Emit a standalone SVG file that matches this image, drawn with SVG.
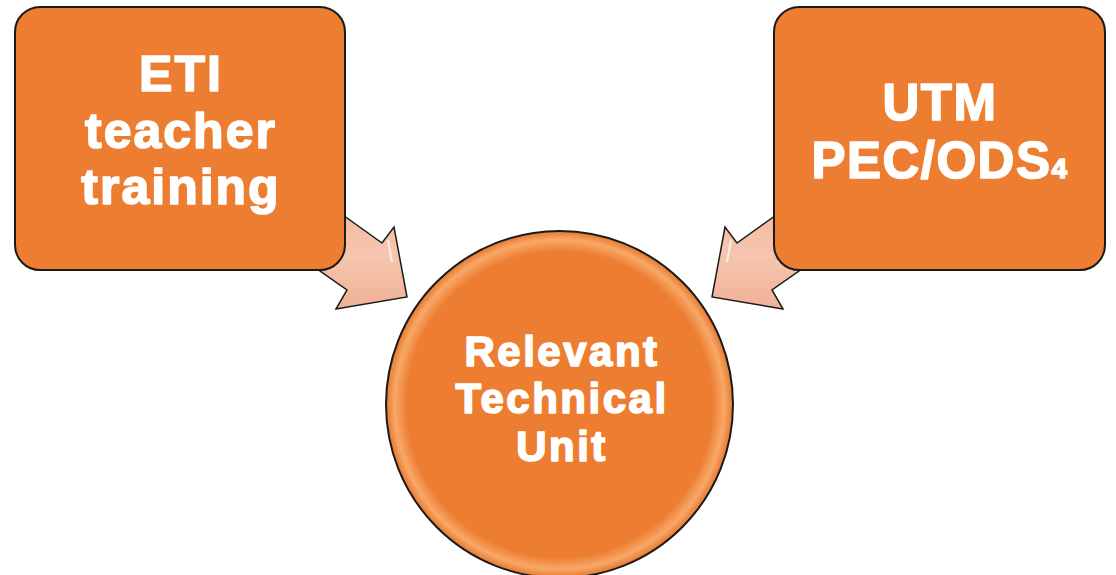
<svg xmlns="http://www.w3.org/2000/svg" width="1116" height="575" viewBox="0 0 1116 575">
<defs>
<style>
.box{fill:#ED7D31;stroke:#1a1a1a;stroke-width:2}
.arrow{fill:url(#arrowGrad);stroke:#1a1a1a;stroke-width:1.5;stroke-linejoin:miter}
.lbl{font-family:"Liberation Sans",Arial,sans-serif;font-weight:bold;fill:#ffffff;stroke:#ffffff;stroke-width:1.6;stroke-linejoin:round;text-anchor:middle}
.hl{stroke:url(#vHl);stroke-width:3;stroke-linecap:round;fill:none}
</style>
<linearGradient id="arrowGrad" x1="0" y1="0" x2="0" y2="1">
<stop offset="0" stop-color="#F2B79B"/>
<stop offset="0.5" stop-color="#F6C6B0"/>
<stop offset="1" stop-color="#EFB195"/>
</linearGradient>
<linearGradient id="vHl" x1="0" y1="0" x2="0" y2="1">
<stop offset="0" stop-color="#FFE6C8" stop-opacity="0.2"/>
<stop offset="0.15" stop-color="#FFE6C8" stop-opacity="0.9"/>
<stop offset="0.85" stop-color="#FFE6C8" stop-opacity="0.9"/>
<stop offset="1" stop-color="#FFE6C8" stop-opacity="0.2"/>
</linearGradient>
<radialGradient id="circGrad" cx="0.5" cy="0.5" r="0.5">
<stop offset="0.88" stop-color="#ED7D31"/>
<stop offset="0.95" stop-color="#F7A868"/>
<stop offset="1" stop-color="#E8772C"/>
</radialGradient>
</defs>
<g id="connectors">
<polygon class="arrow" points="322,200 382,243 394,227 407,297 336,309 347,290 290,250"/>
<polygon class="arrow" points="797,200 737,243 725,227 712,297 783,309 772,290 829,250"/>
<path d="M388,240 L392,262" stroke="#ffffff" stroke-opacity="0.7" stroke-width="2" fill="none"/>
<path d="M731,240 L727,262" stroke="#ffffff" stroke-opacity="0.7" stroke-width="2" fill="none"/>
</g>
<g id="node-eti">
<rect class="box" x="15" y="7" width="330" height="263" rx="25" ry="25"/>
<line class="hl" x1="28" y1="30" x2="28" y2="248"/>
<line class="hl" x1="332" y1="30" x2="332" y2="248"/>
<text class="lbl" font-size="50" letter-spacing="2"><tspan x="181" y="91">ETI</tspan><tspan x="181" y="148">teacher</tspan><tspan x="181" y="204">training</tspan></text>
</g>
<g id="node-utm">
<rect class="box" x="774" y="7" width="331" height="263" rx="25" ry="25"/>
<line class="hl" x1="787" y1="30" x2="787" y2="248"/>
<line class="hl" x1="1092" y1="30" x2="1092" y2="248"/>
<text class="lbl" font-size="51" letter-spacing="1.5"><tspan x="940" y="120">UTM</tspan><tspan x="940" y="178">PEC/ODS<tspan font-size="28">4</tspan></tspan></text>
</g>
<g id="node-unit">
<circle cx="559.5" cy="404.5" r="173.5" fill="url(#circGrad)" stroke="#1a1a1a" stroke-width="2"/>
<text class="lbl" font-size="42" letter-spacing="2.5"><tspan x="562" y="366">Relevant</tspan><tspan x="562" y="413">Technical</tspan><tspan x="562" y="461">Unit</tspan></text>
</g>
</svg>
